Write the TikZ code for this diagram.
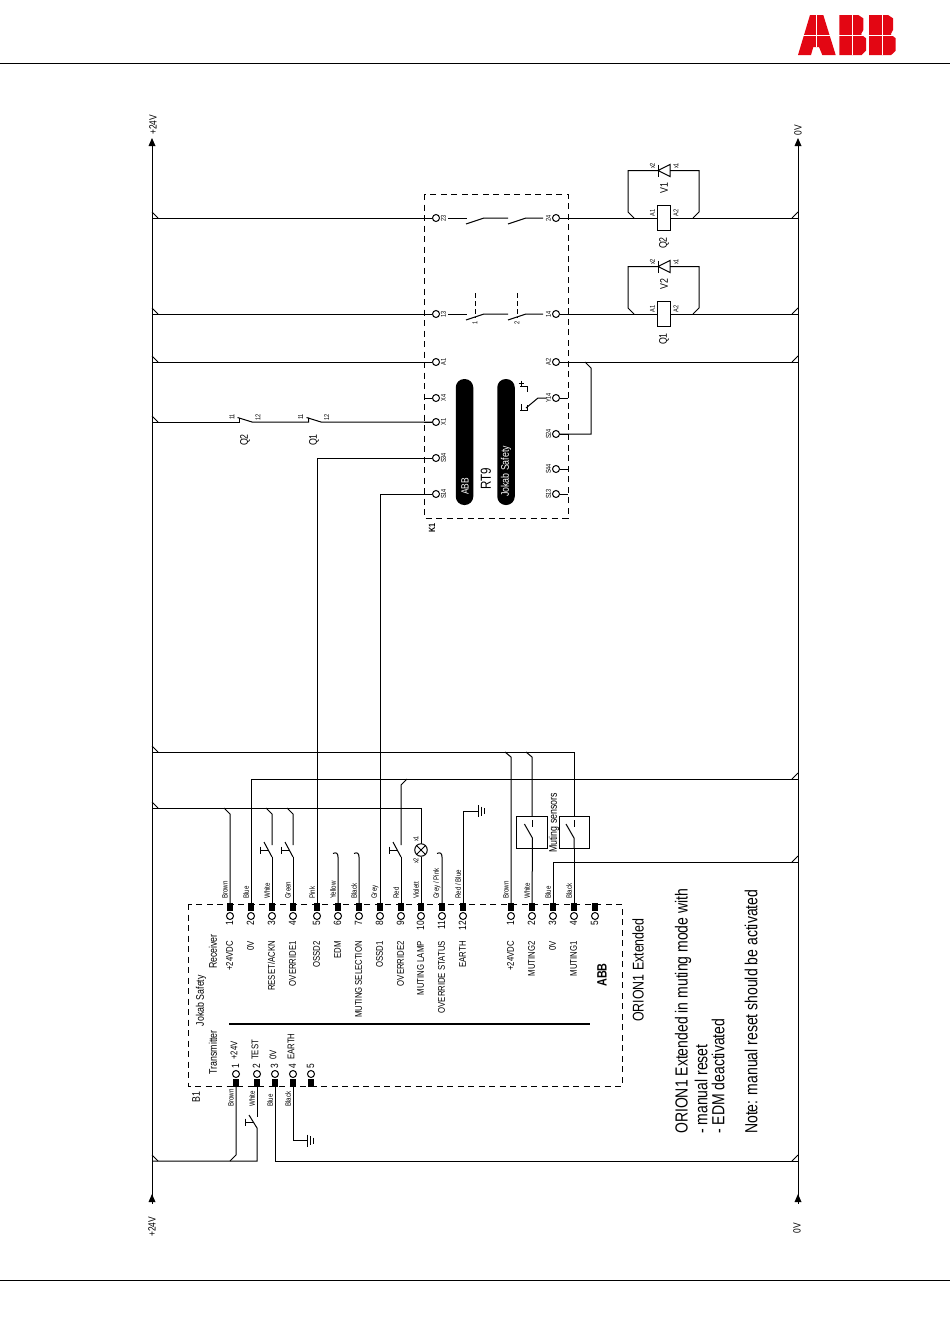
\documentclass[tikz,border=0pt]{standalone}
\usepackage{fontspec}
\setmainfont[FakeStretch=0.8]{Liberation Sans}
\usetikzlibrary{calc}
\definecolor{abbred}{RGB}{227,6,19}
\tikzset{
	wire/.style={line width=1pt},
	boxline/.style={line width=1pt, dash pattern=on 6pt off 4.5pt},
	ring/.style={circle, draw, fill=white, line width=1pt, inner sep=0pt, minimum size=7pt},
	termsq/.style={fill=black, inner sep=0pt, minimum width=6.5pt, minimum height=8pt},
	vtext/.style={rotate=90, inner sep=0pt, font=\fontsize{11}{11}\selectfont},
	pname/.style={rotate=90, inner sep=0pt, font=\fontsize{9.7}{9.7}\selectfont},
	wname/.style={rotate=90, inner sep=0pt, anchor=west, font=\fontsize{7.7}{7.7}\selectfont},
	tiny/.style={rotate=90, inner sep=0pt, font=\fontsize{7}{7}\selectfont},
	railtext/.style={rotate=90, inner sep=0pt, font=\fontsize{10.5}{10.5}\selectfont},
	note/.style={rotate=90, inner sep=0pt, anchor=west, font=\fontsize{17.5}{17.5}\selectfont},
}
\begin{document}
\begin{tikzpicture}[x=1pt, y=-1pt]
	\useasboundingbox (0,0) rectangle (950,1344);
	\def\railL{152};
	\def\railR{798};

	% header and footer
	\draw[line width=1pt] (0,63.5) -- (950,63.5);
	\draw[line width=1pt] (0,1280) -- (950,1280);
	\fill[abbred] (798,55) -- (810,15) -- (823.3,15) -- (835.7,55) -- (822.3,55) -- (819,47) -- (813.3,47) -- (811,55) -- cycle;
	\foreach \dx in {0,29.7} {
		\begin{scope}[xshift=\dx]
			\fill[abbred] (839.3,15) -- (858.3,15) -- (863.3,18.3) -- (863.3,30) -- (861,34.3) -- (866,38.3) -- (866,50.7) -- (861.5,55) -- (839.3,55) -- cycle;
			\draw[white, line width=1pt] (852.3,15) -- (852.3,55);
		\end{scope}
	}
	\draw[white, line width=1pt] (816,15) -- (816,47);
	\draw[white, line width=1pt] (795,35) -- (898,35);

	% rails
	\coordinate (topL) at (\railL,146);
	\coordinate (topR) at (\railR,146);
	\coordinate (botL) at (\railL,1204);
	\coordinate (botR) at (\railR,1204);
	\draw[wire] (topL) -- (botL);
	\draw[wire] (topR) -- (botR);
	\foreach \y in {146,1202} {
		\fill (\railL,{\y-8}) -- ({\railL+3.5},\y) -- ({\railL-3.5},\y) -- cycle;
		\fill (\railR,{\y-8}) -- ({\railR+3.5},\y) -- ({\railR-3.5},\y) -- cycle;
	}
	\node[railtext, anchor=west] (top24) at (153,135) {+24V};
	\node[railtext, anchor=west] (bot24) at (152,1237) {+24V};
	\node[railtext] (top0) at (798,130) {0V};
	\node[railtext] (bot0) at (797,1228) {0V};
	\foreach \y in {218,314,362,422,752,808,1161}
		\draw[wire] (\railL,{\y-6}) -- ({\railL+6},\y);
	\foreach \y in {218,314,362,779,862,1161}
		\draw[wire] (\railR,{\y-6}) -- ({\railR-6},\y);

	% relay K1
	\draw[boxline] (424,194) rectangle (568,518);
	\node[tiny, font=\bfseries\fontsize{9}{9}\selectfont] (k1) at (432,528) {K1};
	\foreach \lab/\y in {23/218,13/314,A1/362,X4/398,X1/422,S34/458,S14/494} {
		\node[ring] (k\lab) at (436,\y) {};
		\node[tiny] (kt\lab) at (443.5,\y) {\lab};
		\draw[wire] (424,\y) -- (k\lab);
	}
	\foreach \lab/\y in {24/218,14/314,A2/362,Y14/398,S24/434,S44/469,S13/494} {
		\node[ring] (k\lab) at (556,\y) {};
		\node[tiny] (kt\lab) at (548.5,\y) {\lab};
		\draw[wire] (k\lab) -- (568,\y);
	}
	\node[fill=black, rounded corners=8.5pt, minimum width=17.5pt, minimum height=126pt, inner sep=0pt] (pillA) at (464.5,442) {};
	\node[fill=black, rounded corners=8.5pt, minimum width=17.5pt, minimum height=126pt, inner sep=0pt] (pillB) at (506,442) {};
	\node[vtext, anchor=west, white, font=\fontsize{10.5}{10.5}\selectfont] (abbA) at (465,495) {ABB};
	\node[vtext, anchor=west, white] (jokabA) at (506,497) {Jokab Safety};
	\node[vtext, anchor=west, font=\fontsize{14.5}{14.5}\selectfont] (rt9) at (486,490) {RT9};

	% safety contacts
	\foreach \y in {218,314} {
		\draw[wire] (448,\y) -- (467,\y);
		\draw[wire] (466,{\y+6}) -- (484,\y) -- (508,\y);
		\draw[wire] (508,{\y+6}) -- (526,\y) -- (543,\y);
	}
	\node[tiny] (c1) at (475,323) {1};
	\node[tiny] (c2) at (517,323) {2};
	\draw[wire, dash pattern=on 5pt off 3pt] (475,293) -- (475,318);
	\draw[wire, dash pattern=on 5pt off 3pt] (517,293) -- (517,318);

	% timer symbol at Y14
	\draw[wire] (546,398) -- (538,398) -- (526,408);
	\draw[wire] (520,386) -- (527,386) -- (527,392);
	\draw[wire] (518.5,383) -- (523.5,383);
	\draw[wire] (521,380.5) -- (521,385.5);
	\draw[wire] (527,405) -- (527,410) -- (520,410);
	\draw[wire] (521,404) -- (521,411);

	% outputs
	\draw[wire] (\railL,218) -- (k23);
	\draw[wire] (\railL,314) -- (k13);
	\draw[wire] (\railL,362) -- (kA1);
	\draw[wire] (k24) -- (\railR,218);
	\draw[wire] (k14) -- (\railR,314);
	\draw[wire] (kA2) -- (\railR,362);
	\draw[wire] (585,362) -- (591,368) -- (591,434) -- (kS24);

	% coils and diodes
	\foreach \qname/\vname/\y in {Q2/V1/218,Q1/V2/314} {
		\node[draw, fill=white, line width=1pt, inner sep=0pt, minimum width=13pt, minimum height=24.5pt] (coil\qname) at (663.5,\y) {};
		\node[vtext] (t\qname) at (664,{\y+25}) {\qname};
		\node[vtext] (t\vname) at (664,{\y-30}) {\vname};
		\node[tiny] (a1\qname) at (652.5,{\y-5}) {A1};
		\node[tiny] (a2\qname) at (676,{\y-5}) {A2};
		\node[tiny] (x2\qname) at (652.5,{\y-52}) {x2};
		\node[tiny] (x1\qname) at (676,{\y-52}) {x1};
		\draw[wire] (634,\y) -- (628,{\y-6}) -- (628,{\y-47.5}) -- (658,{\y-47.5});
		\draw[wire] (693,\y) -- (699,{\y-6}) -- (699,{\y-47.5}) -- (670,{\y-47.5});
		\draw[wire] (658,{\y-53.5}) -- (658,{\y-41.5});
		\draw[wire] (658,{\y-47.5}) -- (670,{\y-53.5}) -- (670,{\y-41.5}) -- cycle;
	}

	% auxiliary contacts
	\draw[wire] (\railL,422) -- (239.5,422) -- (239.5,417.5);
	\draw[wire] (237.5,417.5) -- (252,422) -- (308.5,422) -- (308.5,417.5);
	\draw[wire] (306.5,417.5) -- (321,422) -- (kX1);
	\foreach \name/\xa/\xb/\xq in {Q2/232/258/245,Q1/300.7/326.7/314} {
		\node[tiny] (n11\name) at (\xa,417) {11};
		\node[tiny] (n12\name) at (\xb,417) {12};
		\node[vtext] (aux\name) at (\xq,440) {\name};
	}

	% receiver and transmitter box
	\draw[boxline] (188,904) rectangle (622,1086);
	\draw[line width=2pt] (229,1024) -- (590,1024);
	\node[vtext, anchor=east] (rcv) at (213,934) {Receiver};
	\node[vtext, anchor=east] (jokabB) at (201,975) {Jokab Safety};
	\node[vtext, anchor=east] (trm) at (213,1030) {Transmitter};
	\node[vtext] (b1) at (196,1097) {B1};
	\node[vtext, font=\bfseries\fontsize{13.5}{13.5}\selectfont] (abbB) at (602,975) {ABB};
	\node[vtext, anchor=west, font=\fontsize{15.5}{15.5}\selectfont] (orion) at (638,1022) {ORION1 Extended};
	\node[vtext, anchor=west] (sens) at (554,853) {Muting sensors};

	% receiver pins
	\foreach \id/\x/\num/\pintext/\wcol in {
		a1/230/1/+24VDC/Brown, a2/251/2/0V/Blue, a3/272/3/{RESET/ACKN}/White, a4/293/4/OVERRIDE1/Green,
		a5/317/5/OSSD2/Pink, a6/338/6/EDM/Yellow, a7/359/7/MUTING SELECTION/Black, a8/380/8/OSSD1/Grey,
		a9/401/9/OVERRIDE2/Red, a10/421/10/MUTING LAMP/Violett, a11/442/11/OVERRIDE STATUS/{Grey / Pink}, a12/463/12/EARTH/{Red / Blue},
		b1/511/1/+24VDC/Brown, b2/532/2/MUTING2/White, b3/553/3/0V/Blue, b4/574/4/MUTING1/Black} {
		\node[termsq] (sq\id) at (\x,907) {};
		\node[ring] (ring\id) at (\x,916) {};
		\node[pname, anchor=east, font=\fontsize{10.5}{10.5}\selectfont] (num\id) at ({\x-0.5},921) {\num};
		\node[pname, anchor=east] (pin\id) at ({\x-0.5},941) {\pintext};
		\node[wname] (col\id) at ({\x-5},899) {\wcol};
	}
	\node[termsq] (sqb5) at (595,907) {};
	\node[ring] (ringb5) at (595,916) {};
	\node[pname, anchor=east, font=\fontsize{10.5}{10.5}\selectfont] (numb5) at (594.5,921) {5};

	% transmitter pins
	\foreach \id/\x/\num/\pintext/\wcol in {t1/236/1/+24V/Brown, t2/257/2/TEST/White, t3/275/3/0V/Blue, t4/293/4/EARTH/Black} {
		\node[termsq] (sq\id) at (\x,1083) {};
		\node[ring] (ring\id) at (\x,1074) {};
		\node[pname, font=\fontsize{10.5}{10.5}\selectfont] (num\id) at ({\x-0.5},1066) {\num};
		\node[pname, anchor=west] (pin\id) at ({\x-2},1060) {\pintext};
		\node[wname] (col\id) at ({\x-5},1107) {\wcol};
	}
	\node[termsq] (sqt5) at (311,1083) {};
	\node[ring] (ringt5) at (311,1074) {};
	\node[pname, font=\fontsize{10.5}{10.5}\selectfont] (numt5) at (310.5,1066) {5};

	% supply branches
	\draw[wire] (\railL,752) -- (574,752) -- (574,816);
	\draw[wire] (\railL,808) -- (421,808) -- (421,844);
	\draw[wire] (\railR,779) -- (251,779) -- (sqa2);
	\draw[wire] (224,808) -- (230,814) -- (sqa1);
	\draw[wire] (505,752) -- (511,757) -- (sqb1);
	\draw[wire] (526,752) -- (532,757) -- (532,816);
	\draw[wire] (\railR,862) -- (553,862) -- (sqb3);

	% push buttons
	\foreach \id/\x/\xt in {a3/272/260,a4/293/281,a9/401/389} {
		\draw[wire] (\x,857) -- (sq\id);
		\draw[wire] ({\x-8},842) -- (\x,857);
		\draw[wire] (\xt,850) -- ({\xt+8},850);
		\draw[wire] (\xt,846.5) -- (\xt,853.5);
	}
	\draw[wire] (266,808) -- (272,814) -- (272,845);
	\draw[wire] (287,808) -- (293,814) -- (293,845);
	\draw[wire] (407,779) -- (401,785) -- (401,845);
	\node[draw, circle, line width=1pt, inner sep=0pt, minimum size=12.5pt, fill=white] (lamp) at (421,850) {};
	\draw[wire] (lamp.45) -- (lamp.225);
	\draw[wire] (lamp.135) -- (lamp.315);
	\draw[wire] (lamp) -- (sqa10);
	\node[tiny] (lampx1) at (416,839) {x1};
	\node[tiny] (lampx2) at (416,861) {x2};

	% inputs to the relay
	\draw[wire] (sqa5) -- (317,458) -- (kS34);
	\draw[wire] (sqa8) -- (380,494) -- (kS14);

	% hooks, open pins
	\foreach \id/\x in {a6/338,a7/359,a11/442} {
		\draw[wire] (sq\id) -- (\x,857) .. controls (\x,853) and ({\x-2},852) .. ({\x-5},853.5);
	}

	% earths
	\draw[wire] (sqa12) -- (463,811) -- (478,811);
	\draw[wire] (478,805) -- (478,817);
	\draw[wire] (481,806.5) -- (481,815.5);
	\draw[wire] (484,808) -- (484,814);
	\draw[wire] (sqt4) -- (293,1140.5) -- (307.5,1140.5);
	\draw[wire] (307.5,1134.5) -- (307.5,1146.5);
	\draw[wire] (310.5,1136) -- (310.5,1145);
	\draw[wire] (313.5,1137.5) -- (313.5,1143.5);

	% muting sensors
	\foreach \id/\x/\w in {b2/532.4/31,b4/574/30} {
		\node[draw, line width=1pt, inner sep=0pt, minimum width=\w pt, minimum height=32pt] (sens\id) at (\x,832) {};
		\draw[wire] (\x,820) -- (\x,827);
		\draw[wire] ({\x-8},824) -- (\x,838) -- (sens\id.south);
		\draw[wire] (sens\id.south) -- (sq\id);
	}

	% transmitter wiring
	\draw[wire] (sqt1) -- (236,1155) -- (230,1161);
	\draw[wire] (sqt2) -- (257,1117);
	\draw[wire] (249,1115) -- (257,1128) -- (257,1161) -- (\railL,1161);
	\draw[wire] (245,1122) -- (253,1122);
	\draw[wire] (245,1118.5) -- (245,1125.5);
	\draw[wire] (sqt3) -- (275,1161) -- (\railR,1161);

	% notes
	\node[note] (noteA) at (683,1134) {ORION1 Extended in muting mode with};
	\node[note] (noteB) at (701,1134) {- manual reset};
	\node[note] (noteC) at (718,1134) {- EDM deactivated};
	\node[note] (noteD) at (751,1134) {Note: manual reset should be activated};
\end{tikzpicture}
\end{document}
